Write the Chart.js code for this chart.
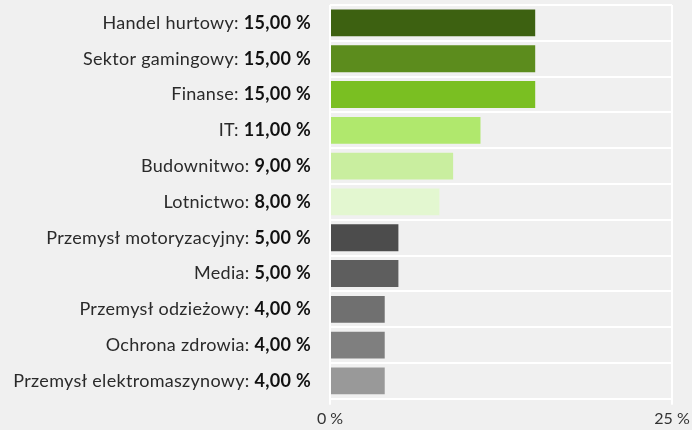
<!DOCTYPE html>
<html>
<head>
<meta charset="utf-8">
<script src="https://cdn.jsdelivr.net/npm/chart.js@4"></script>
<style>
  html, body { margin: 0; padding: 0; background: #f0f0f0; }
  #wrap { width: 692px; height: 430px; }
</style>
</head>
<body>
<div id="wrap"><canvas id="chart" width="692" height="430"></canvas></div>
<script>
// Dane wykresu
const categories = [
  'Handel hurtowy', 'Sektor gamingowy', 'Finanse', 'IT', 'Budownitwo', 'Lotnictwo',
  'Przemysł motoryzacyjny', 'Media', 'Przemysł odzieżowy', 'Ochrona zdrowia',
  'Przemysł elektromaszynowy'
];
const shares = [15, 15, 15, 11, 9, 8, 5, 5, 4, 4, 4];
const barColors = [
  '#3d6111', '#5c8c1d', '#7abf22', '#b0e86d', '#c9ee9f', '#e3f7d0',
  '#4c4c4c', '#5e5e5e', '#707070', '#7f7f7f', '#999999'
];
const xTicks = [0, 25];

const FONT = 'Lato';
const LABEL_SIZE = 18;
const LABEL_RIGHT = 311;

function fmt(v) {
  return v.toFixed(2).replace('.', ',') + ' %';
}

// Etykiety z pogrubioną wartością (Chart.js nie obsługuje mieszanych fontów w tickach)
const labelPlugin = {
  id: 'mixedLabels',
  afterDraw(chart) {
    const ctx = chart.ctx;
    const yScale = chart.scales.y;
    ctx.save();
    ctx.textBaseline = 'middle';
    ctx.textAlign = 'right';
    ctx.letterSpacing = '0.3px';
    categories.forEach((name, i) => {
      const y = yScale.getPixelForValue(i);
      const val = fmt(shares[i]);
      ctx.font = `bold ${LABEL_SIZE}px ${FONT}`;
      ctx.fillStyle = '#111';
      ctx.fillText(val, LABEL_RIGHT, y);
      const w = ctx.measureText(val).width;
      ctx.font = `${LABEL_SIZE}px ${FONT}`;
      ctx.fillStyle = '#2a2a2a';
      ctx.fillText(name + ': ', LABEL_RIGHT - w, y);
    });
    ctx.restore();
  }
};

new Chart(document.getElementById('chart'), {
  type: 'bar',
  data: {
    labels: categories,
    datasets: [{
      data: shares,
      backgroundColor: barColors,
      borderWidth: 0,
      barPercentage: 0.75,
      categoryPercentage: 1
    }]
  },
  options: {
    indexAxis: 'y',
    responsive: false,
    animation: false,
    layout: { padding: { top: 5, bottom: -2 } },
    plugins: {
      legend: { display: false },
      tooltip: { enabled: false }
    },
    scales: {
      x: {
        min: 0,
        max: 25,
        afterBuildTicks(scale) {
          scale.ticks = xTicks.map(v => ({ value: v }));
        },
        afterFit(scale) { scale.paddingRight = 20; },
        ticks: {
          callback: v => v + ' %',
          color: '#333',
          font: { family: FONT, size: 16 },
          maxRotation: 0,
          padding: 4
        },
        grid: { color: '#ffffff', lineWidth: 2, tickLength: 6 },
        border: { display: false }
      },
      y: {
        afterFit(scale) { scale.width = 330; },
        ticks: { display: false },
        grid: { color: '#ffffff', lineWidth: 2, drawTicks: false, offset: true },
        border: { display: false }
      }
    }
  },
  plugins: [labelPlugin]
});
</script>
</body>
</html>
